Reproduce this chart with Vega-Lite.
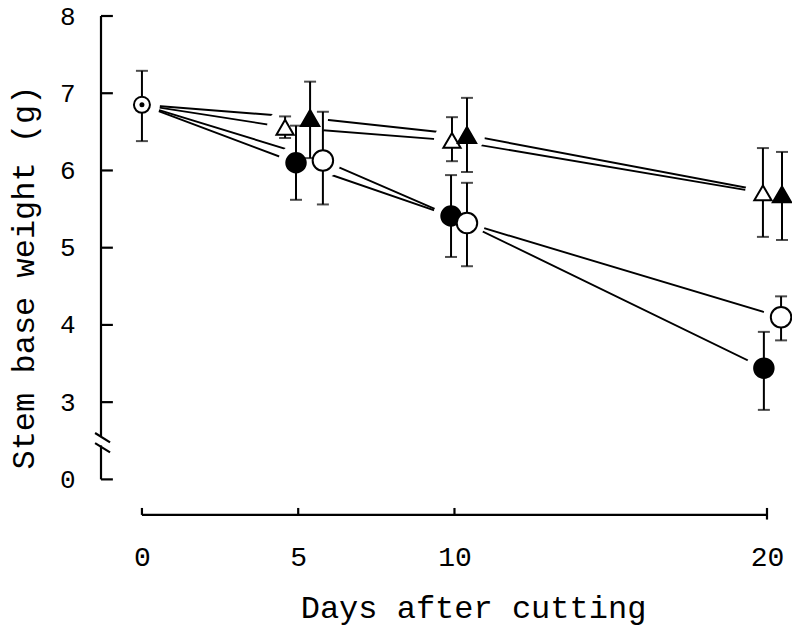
{
  "$schema": "https://vega.github.io/schema/vega-lite/v6.json",
  "width": 691,
  "height": 502,
  "autosize": "none",
  "padding": {"left": 101, "top": 16, "right": 0, "bottom": 109},
  "background": "white",
  "config": {
    "view": {"stroke": null},
    "axis": {"labelFont": "Liberation Mono", "titleFont": "Liberation Mono", "labelColor": "black", "titleColor": "black", "titleFontWeight": "normal", "grid": false, "domain": false, "ticks": false}
  },
  "datasets": {
    "frame": [
      {"day": -1.31, "w": 8, "day2": -1.31, "w2": 2.56},
      {"day": -1.31, "w": 2.44, "day2": -1.31, "w2": 2},
      {"day": -1.5, "w": 2.6, "day2": -1.02, "w2": 2.48},
      {"day": -1.5, "w": 2.47, "day2": -1.02, "w2": 2.35},
      {"day": -1.31, "w": 8, "day2": -0.93, "w2": 8},
      {"day": -1.31, "w": 7, "day2": -0.93, "w2": 7},
      {"day": -1.31, "w": 6, "day2": -0.93, "w2": 6},
      {"day": -1.31, "w": 5, "day2": -0.93, "w2": 5},
      {"day": -1.31, "w": 4, "day2": -0.93, "w2": 4},
      {"day": -1.31, "w": 3, "day2": -0.93, "w2": 3},
      {"day": -1.31, "w": 2, "day2": -0.93, "w2": 2},
      {"day": 0, "w": 1.54, "day2": 20, "w2": 1.54},
      {"day": 0, "w": 1.54, "day2": 0, "w2": 1.63},
      {"day": 5, "w": 1.54, "day2": 5, "w2": 1.63},
      {"day": 10, "w": 1.54, "day2": 10, "w2": 1.63},
      {"day": 20, "w": 1.48, "day2": 20, "w2": 1.63}
    ],
    "lines": [
      {"series": "A", "day": 0, "w": 6.85},
      {"series": "A", "day": 4.58, "w": 6.56},
      {"series": "A", "day": 9.92, "w": 6.39},
      {"series": "A", "day": 19.87, "w": 5.71},
      {"series": "B", "day": 0, "w": 6.85},
      {"series": "B", "day": 5.38, "w": 6.68},
      {"series": "B", "day": 10.4, "w": 6.46},
      {"series": "B", "day": 20.48, "w": 5.69},
      {"series": "C", "day": 0, "w": 6.85},
      {"series": "C", "day": 4.93, "w": 6.1},
      {"series": "C", "day": 9.89, "w": 5.41},
      {"series": "C", "day": 19.9, "w": 3.44},
      {"series": "D", "day": 0, "w": 6.85},
      {"series": "D", "day": 5.79, "w": 6.13},
      {"series": "D", "day": 10.4, "w": 5.32},
      {"series": "D", "day": 20.45, "w": 4.1}
    ],
    "obs": [
      {"series": "S", "day": 0, "w": 6.85, "lo": 6.38, "hi": 7.29},
      {"series": "C", "day": 4.93, "w": 6.1, "lo": 5.62, "hi": 6.58},
      {"series": "D", "day": 5.79, "w": 6.13, "lo": 5.56, "hi": 6.76},
      {"series": "A", "day": 4.58, "w": 6.56, "lo": 6.42, "hi": 6.7},
      {"series": "B", "day": 5.38, "w": 6.68, "lo": 6.16, "hi": 7.15},
      {"series": "C", "day": 9.89, "w": 5.41, "lo": 4.88, "hi": 5.94},
      {"series": "D", "day": 10.4, "w": 5.32, "lo": 4.76, "hi": 5.84},
      {"series": "A", "day": 9.92, "w": 6.39, "lo": 6.12, "hi": 6.69},
      {"series": "B", "day": 10.4, "w": 6.46, "lo": 5.98, "hi": 6.94},
      {"series": "C", "day": 19.9, "w": 3.44, "lo": 2.9, "hi": 3.91},
      {"series": "D", "day": 20.45, "w": 4.1, "lo": 3.8, "hi": 4.37},
      {"series": "A", "day": 19.87, "w": 5.71, "lo": 5.14, "hi": 6.29},
      {"series": "B", "day": 20.48, "w": 5.69, "lo": 5.1, "hi": 6.24}
    ]
  },
  "encoding": {
    "x": {
      "field": "day", "type": "quantitative",
      "scale": {"domain": [-1.31, 20.8], "nice": false, "zero": false},
      "axis": {"values": [0, 5, 10, 20], "labelFontSize": 28, "labelPadding": 25, "title": "Days after cutting", "titleFontSize": 32, "titleX": 372, "titleY": 89, "titleAlign": "center", "titleBaseline": "middle", "labelFlush": false}
    },
    "y": {
      "field": "w", "type": "quantitative",
      "scale": {"domain": [1.5, 8], "nice": false, "zero": false},
      "axis": {"values": [2, 3, 4, 5, 6, 7, 8], "labelExpr": "datum.value == 2 ? '0' : datum.label", "labelFontSize": 26, "labelPadding": 26, "title": "Stem base weight (g)", "titleFontSize": 32, "titleX": -78, "titleY": 261, "titleAlign": "center", "titleBaseline": "middle", "titleAngle": 270}
    }
  },
  "layer": [
    {
      "data": {"name": "frame"},
      "mark": {"type": "rule", "color": "black", "strokeWidth": 2.2},
      "encoding": {"x2": {"field": "day2"}, "y2": {"field": "w2"}}
    },
    {
      "data": {"name": "lines"},
      "mark": {"type": "line", "color": "black", "strokeWidth": 1.9},
      "encoding": {"detail": {"field": "series"}, "order": {"field": "day", "type": "quantitative"}}
    },
    {
      "data": {"name": "obs"},
      "mark": {"type": "point", "shape": "circle", "filled": true, "fill": "white", "stroke": null, "strokeWidth": 0, "opacity": 1, "fillOpacity": 1, "size": 1300},
      "encoding": {}
    },
    {
      "data": {"name": "obs"},
      "mark": {"type": "rule", "color": "black", "strokeWidth": 2},
      "encoding": {"y": {"field": "lo", "type": "quantitative"}, "y2": {"field": "hi"}}
    },
    {
      "data": {"name": "obs"},
      "mark": {"type": "tick", "orient": "horizontal", "color": "black", "size": 12, "thickness": 2},
      "encoding": {"y": {"field": "lo", "type": "quantitative"}}
    },
    {
      "data": {"name": "obs"},
      "mark": {"type": "tick", "orient": "horizontal", "color": "black", "size": 12, "thickness": 2},
      "encoding": {"y": {"field": "hi", "type": "quantitative"}}
    },
    {
      "data": {"name": "obs"},
      "mark": {"type": "point", "filled": true, "stroke": "black", "strokeWidth": 2, "opacity": 1},
      "encoding": {
        "shape": {"field": "series", "type": "nominal", "scale": {"domain": ["S", "A", "B", "C", "D"], "range": ["circle", "triangle-up", "triangle-up", "circle", "circle"]}, "legend": null},
        "fill": {"field": "series", "type": "nominal", "scale": {"domain": ["S", "A", "B", "C", "D"], "range": ["white", "white", "black", "black", "white"]}, "legend": null},
        "size": {"field": "series", "type": "nominal", "scale": {"domain": ["S", "A", "B", "C", "D"], "range": [256, 420, 420, 196, 240]}, "legend": null}
      }
    },
    {
      "data": {"name": "obs"},
      "transform": [{"filter": "datum.series == 'S'"}],
      "mark": {"type": "point", "shape": "circle", "filled": true, "color": "black", "opacity": 1, "size": 25},
      "encoding": {}
    }
  ]
}
